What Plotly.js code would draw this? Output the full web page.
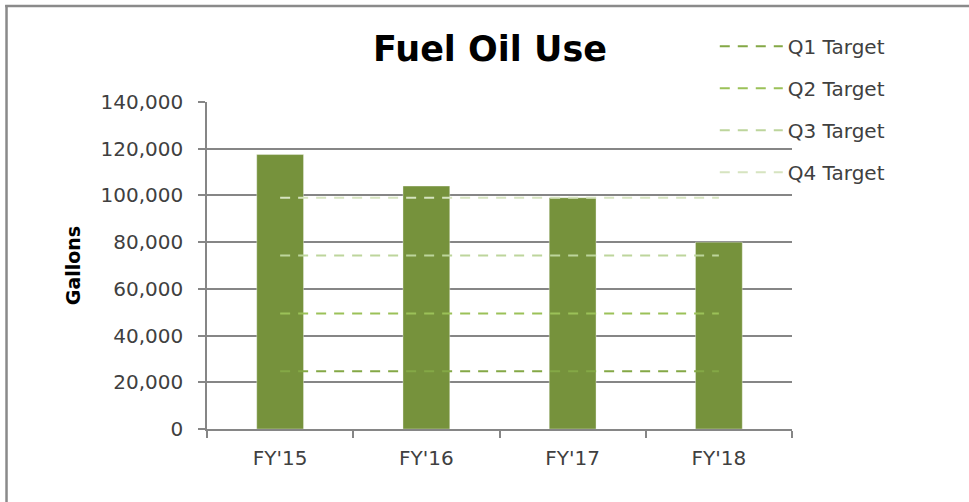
<!DOCTYPE html>
<html>
<head>
<meta charset="utf-8">
<script src="https://cdn.plot.ly/plotly-3.0.1.min.js"></script>
<style>html,body{margin:0;padding:0;background:#fff;}#chart{width:969px;height:502px;}</style>
</head>
<body>
<div id="chart"></div>
<script>
var categories = ["FY'15", "FY'16", "FY'17", "FY'18"];
var fuelOilUse = [117500, 104000, 99000, 80000];
var targetNames = ["Q1 Target", "Q2 Target", "Q3 Target", "Q4 Target"];
var q1Target = [24750, 24750, 24750, 24750];
var q2Target = [49500, 49500, 49500, 49500];
var q3Target = [74250, 74250, 74250, 74250];
var q4Target = [99000, 99000, 99000, 99000];
var yTickValues = [0, 20000, 40000, 60000, 80000, 100000, 120000, 140000];

var targetSeries = [q1Target, q2Target, q3Target, q4Target];
var targetColors = ['#84A846', '#9BC158', '#BDD59C', '#D6E4C0'];

var FONT = 'DejaVu Sans, sans-serif';
var GRID = '#868686';

var traces = [{
  type: 'bar', x: categories, y: fuelOilUse, name: 'Fuel Oil Use',
  marker: {color: '#76923C', line: {color: 'rgba(255,255,255,0.35)', width: 1}},
  width: 0.32, showlegend: false, hoverinfo: 'x+y', legendgroup: 'bars'
}];
targetSeries.forEach(function (vals, i) {
  traces.push({
    type: 'scatter', mode: 'lines', x: categories, y: vals, name: targetNames[i],
    legendgroup: 'g' + i,
    line: {color: targetColors[i], width: 2, dash: '10px,8px'}
  });
});

var layout = {
  width: 969, height: 502,
  margin: {l: 207, r: 177, t: 102, b: 73},
  paper_bgcolor: '#ffffff', plot_bgcolor: '#ffffff',
  font: {family: FONT, color: '#404040', size: 20},
  title: {
    text: '<b>Fuel Oil Use</b>',
    font: {family: FONT, size: 35, color: '#000000'},
    xref: 'container', x: 0.5057, xanchor: 'center',
    yref: 'container', y: 0.902, yanchor: 'middle'
  },
  showlegend: true,
  legend: {
    x: 0.868, xanchor: 'left', y: 1.23, yanchor: 'top',
    bgcolor: 'rgba(0,0,0,0)', font: {family: FONT, size: 20, color: '#404040'},
    itemwidth: 63, tracegroupgap: 13, traceorder: 'grouped'
  },
  xaxis: {
    type: 'category', showgrid: false, zeroline: false,
    showline: true, linecolor: GRID, linewidth: 1.5,
    ticks: 'outside', tickson: 'boundaries', ticklen: 7, tickcolor: GRID, tickwidth: 1.5,
    ticklabelstandoff: 10,
    tickfont: {family: FONT, size: 20, color: '#404040'}
  },
  yaxis: {
    range: [0, 140000], tickvals: yTickValues, tickformat: ',d',
    showgrid: true, gridcolor: GRID, gridwidth: 1.5, zeroline: false,
    showline: true, linecolor: GRID, linewidth: 1.5,
    ticks: 'outside', ticklen: 7, tickcolor: GRID, tickwidth: 1.5,
    ticklabelstandoff: 11,
    tickfont: {family: FONT, size: 20, color: '#404040'},
    title: {text: '<b>Gallons</b>', font: {family: FONT, size: 19, color: '#000000'}, standoff: 15}
  },
  shapes: [
    {type: 'line', xref: 'paper', yref: 'paper', x0: -0.345, x1: 1.31, y0: 1.2936, y1: 1.2936,
     line: {color: '#8A8A8A', width: 2.5}},
    {type: 'line', xref: 'paper', yref: 'paper', x0: -0.3427, x1: -0.3427, y0: -0.23, y1: 1.297,
     line: {color: '#8A8A8A', width: 2.5}}
  ]
};

Plotly.newPlot('chart', traces, layout, {displayModeBar: false, responsive: false});
</script>
</body>
</html>
